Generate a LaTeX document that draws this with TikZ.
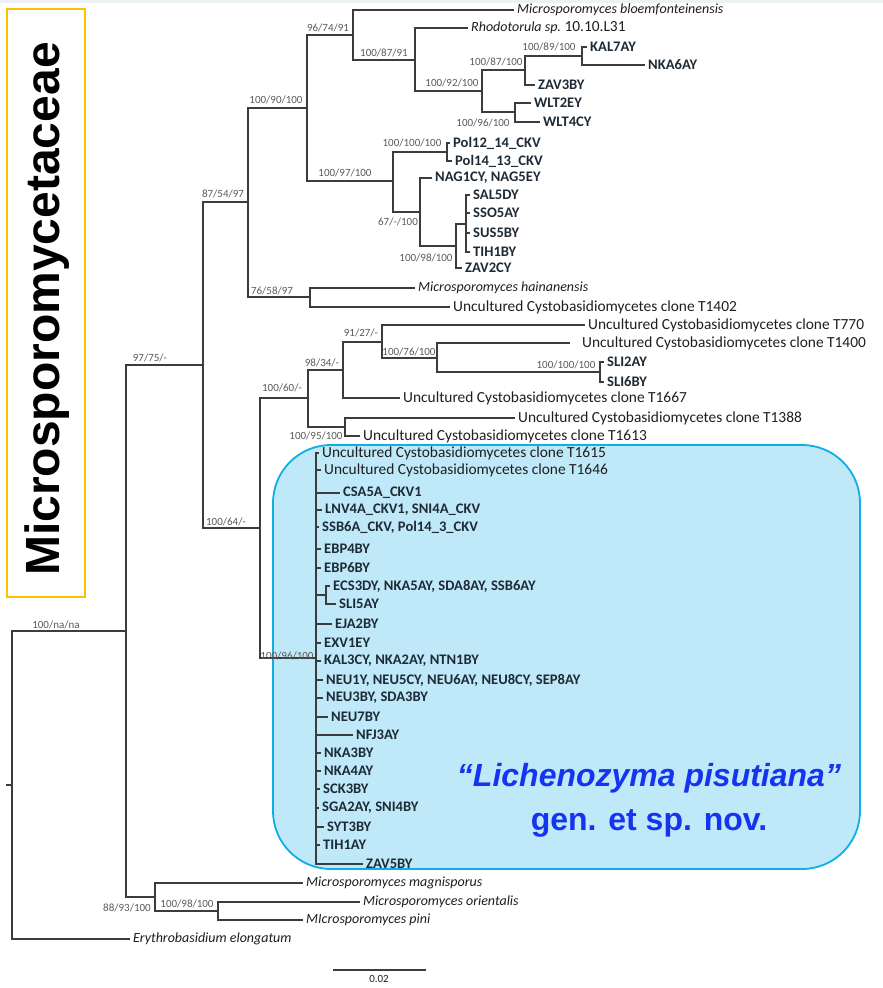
\documentclass[tikz,border=0pt]{standalone}
\usepackage{fontspec}
\setmainfont{Carlito}
\newfontfamily\arialf{Liberation Sans}
\definecolor{linec}{HTML}{3C3C3C}
\definecolor{leafc}{HTML}{1E1E1E}
\definecolor{boldc}{HTML}{1E2A36}
\definecolor{bootc}{HTML}{5C5A58}
\definecolor{boxfill}{HTML}{BFE9F8}
\definecolor{boxline}{HTML}{10AEE8}
\definecolor{lichc}{HTML}{1434EF}
\definecolor{orangec}{HTML}{FFC000}
\definecolor{topc}{HTML}{EDF2F5}
\begin{document}
\begin{tikzpicture}[x=1pt,y=-1pt,
  br/.style={draw=linec, line width=1.2pt},
  leaf/.style={anchor=west, inner xsep=3pt, inner ysep=0pt, text=leafc, font=\fontsize{15.4}{17}\selectfont},
  leafi/.style={leaf, font=\fontsize{14}{16}\selectfont\itshape},
  leafb/.style={leaf, text=boldc, font=\fontsize{14.6}{17}\selectfont\bfseries},
  boot/.style={text=bootc, font=\fontsize{11}{12}\selectfont, inner sep=0pt}]
\useasboundingbox (0,0) rectangle (883,988);
\fill[topc] (0,0) rectangle (883,3);
% family box
\draw[draw=orangec, line width=1.5pt] (7,9) rectangle (85,597);
\node[rotate=90, font=\arialf\bfseries\fontsize{48}{50}\selectfont] (fam) at (47,309) {Microsporomycetaceae};
% highlight box
\draw[fill=boxfill, draw=boxline, line width=1.8pt, rounded corners=58pt] (273,445) rectangle (860,869);
\node[font=\arialf\bfseries\fontsize{32}{44}\selectfont, text=lichc, align=center] (lich) at (649,800) {{\itshape “Lichenozyma pisutiana”}\\gen. et sp. nov.};

% internal nodes
\coordinate (rs) at (6,785);
\coordinate (root) at (12,785);
\coordinate (n1) at (126,631);
\coordinate (n2) at (203,365);
\coordinate (n3) at (248,202);
\coordinate (nA) at (307,108);
\coordinate (nB) at (353,35);
\coordinate (nC) at (415,60);
\coordinate (nD) at (482,91);
\coordinate (nE) at (525,70);
\coordinate (nF) at (582,56);
\coordinate (nG) at (515,112);
\coordinate (nH) at (393,181);
\coordinate (nI) at (447,152);
\coordinate (nJ) at (420,212);
\coordinate (nK) at (456,246);
\coordinate (nL) at (466,224);
\coordinate (nM) at (310,297);
\coordinate (nN) at (260,528);
\coordinate (nR) at (308,398);
\coordinate (nS) at (343,370);
\coordinate (nU) at (382,342);
\coordinate (nV) at (437,358);
\coordinate (nW) at (600,372);
\coordinate (nT) at (345,427);
\coordinate (nO) at (316,658);
\coordinate (nP) at (326,595);
\coordinate (nQ) at (155,897);
\coordinate (nX) at (218,911);

% leaves
\node[leafi] (bloem) at (514,10) {Microsporomyces bloemfonteinensis};
\node[leaf] (rhodo) at (468,28) {{\fontsize{14}{16}\selectfont\itshape Rhodotorula sp.}\ 10.10.L31};
\node[leafb] (kal7) at (587,47) {KAL7AY};
\node[leafb] (nka6) at (645,65) {NKA6AY};
\node[leafb] (zav3) at (535,85) {ZAV3BY};
\node[leafb] (wlt2) at (531,103) {WLT2EY};
\node[leafb] (wlt4) at (540,122) {WLT4CY};
\node[leafb] (pol12) at (450,143) {Pol12\_14\_CKV};
\node[leafb] (pol14) at (452,161) {Pol14\_13\_CKV};
\node[leafb] (nag) at (432,178) {NAG1CY, NAG5EY};
\node[leafb] (sal5) at (470,195) {SAL5DY};
\node[leafb] (sso5) at (470,213) {SSO5AY};
\node[leafb] (sus5) at (470,233) {SUS5BY};
\node[leafb] (tih1b) at (470,252) {TIH1BY};
\node[leafb] (zav2) at (462,268) {ZAV2CY};
\node[leafi] (hain) at (415,288) {Microsporomyces hainanensis};
\node[leaf] (t1402) at (450,307) {Uncultured Cystobasidiomycetes clone T1402};
\node[leaf] (t770) at (585,325) {Uncultured Cystobasidiomycetes clone T770};
\node[leaf] (t1400) at (570,343) {\hspace{9pt}Uncultured Cystobasidiomycetes clone T1400};
\node[leafb] (sli2) at (604,362) {SLI2AY};
\node[leafb] (sli6) at (604,382) {SLI6BY};
\node[leaf] (t1667) at (400,398) {Uncultured Cystobasidiomycetes clone T1667};
\node[leaf] (t1388) at (515,418) {Uncultured Cystobasidiomycetes clone T1388};
\node[leaf] (t1613) at (360,436) {Uncultured Cystobasidiomycetes clone T1613};
\node[leaf] (t1615) at (319,453) {Uncultured Cystobasidiomycetes clone T1615};
\node[leaf] (t1646) at (321,470) {Uncultured Cystobasidiomycetes clone T1646};
\node[leafb] (csa5) at (340,493) {CSA5A\_CKV1};
\node[leafb] (lnv4) at (322,510) {LNV4A\_CKV1, SNI4A\_CKV};
\node[leafb] (ssb6a) at (319,527) {SSB6A\_CKV, Pol14\_3\_CKV};
\node[leafb] (ebp4) at (321,549) {EBP4BY};
\node[leafb] (ebp6) at (321,568) {EBP6BY};
\node[leafb] (ecs3) at (330,586) {ECS3DY, NKA5AY, SDA8AY, SSB6AY};
\node[leafb] (sli5) at (336,604) {SLI5AY};
\node[leafb] (eja2) at (332,624) {EJA2BY};
\node[leafb] (exv1) at (321,643) {EXV1EY};
\node[leafb] (kal3) at (321,661) {KAL3CY, NKA2AY, NTN1BY};
\node[leafb] (neu1) at (323,680) {NEU1Y, NEU5CY, NEU6AY, NEU8CY, SEP8AY};
\node[leafb] (neu3) at (323,698) {NEU3BY, SDA3BY};
\node[leafb] (neu7) at (328,717) {NEU7BY};
\node[leafb] (nfj3) at (353,735) {NFJ3AY};
\node[leafb] (nka3) at (321,753) {NKA3BY};
\node[leafb] (nka4) at (321,771) {NKA4AY};
\node[leafb] (sck3) at (320,789) {SCK3BY};
\node[leafb] (sga2) at (319,808) {SGA2AY, SNI4BY};
\node[leafb] (syt3) at (324,827) {SYT3BY};
\node[leafb] (tih1a) at (320,845) {TIH1AY};
\node[leafb] (zav5) at (363,864) {ZAV5BY};
\node[leafi] (magn) at (303,883) {Microsporomyces magnisporus};
\node[leafi] (orie) at (360,902) {Microsporomyces orientalis};
\node[leafi] (pini) at (303,920) {MIcrosporomyces pini};
\node[leafi] (eryth) at (130,939) {Erythrobasidium elongatum};

% branches
\draw[br] (rs) -- (root);
\draw[br] (root) |- (n1);
\draw[br] (root) |- (eryth.west);
\draw[br] (n1) |- (n2);
\draw[br] (n1) |- (nQ);
\draw[br] (n2) |- (n3);
\draw[br] (n2) |- (nN);
\draw[br] (n3) |- (nA);
\draw[br] (n3) |- (nM);
\draw[br] (nA) |- (nB);
\draw[br] (nA) |- (nH);
\draw[br] (nB) |- (bloem.west);
\draw[br] (nB) |- (nC);
\draw[br] (nC) |- (rhodo.west);
\draw[br] (nC) |- (nD);
\draw[br] (nD) |- (nE);
\draw[br] (nD) |- (nG);
\draw[br] (nE) |- (nF);
\draw[br] (nE) |- (zav3.west);
\draw[br] (nF) |- (kal7.west);
\draw[br] (nF) |- (nka6.west);
\draw[br] (nG) |- (wlt2.west);
\draw[br] (nG) |- (wlt4.west);
\draw[br] (nH) |- (nI);
\draw[br] (nH) |- (nJ);
\draw[br] (nI) |- (pol12.west);
\draw[br] (nI) |- (pol14.west);
\draw[br] (nJ) |- (nag.west);
\draw[br] (nJ) |- (nK);
\draw[br] (nK) |- (nL);
\draw[br] (nK) |- (zav2.west);
\draw[br] (nL) |- (sal5.west);
\draw[br] (nL) |- (sso5.west);
\draw[br] (nL) |- (sus5.west);
\draw[br] (nL) |- (tih1b.west);
\draw[br] (nM) |- (hain.west);
\draw[br] (nM) |- (t1402.west);
\draw[br] (nN) |- (nR);
\draw[br] (nN) |- (nO);
\draw[br] (nR) |- (nS);
\draw[br] (nR) |- (nT);
\draw[br] (nS) |- (nU);
\draw[br] (nS) |- (t1667.west);
\draw[br] (nU) |- (t770.west);
\draw[br] (nU) |- (nV);
\draw[br] (nV) |- (t1400.west);
\draw[br] (nV) |- (nW);
\draw[br] (nW) |- (sli2.west);
\draw[br] (nW) |- (sli6.west);
\draw[br] (nT) |- (t1388.west);
\draw[br] (nT) |- (t1613.west);
\foreach \lf in {t1615,t1646,csa5,lnv4,ssb6a,ebp4,ebp6,eja2,exv1,kal3,neu1,neu3,neu7,nfj3,nka3,nka4,sck3,sga2,syt3,tih1a,zav5}
  {\draw[br] (nO) |- (\lf.west);}
\draw[br] (nO) |- (nP);
\draw[br] (nP) |- (ecs3.west);
\draw[br] (nP) |- (sli5.west);
\draw[br] (nQ) |- (magn.west);
\draw[br] (nQ) |- (nX);
\draw[br] (nX) |- (orie.west);
\draw[br] (nX) |- (pini.west);

% support values
\node[boot] (b1) at (56,625) {100/na/na};
\node[boot] (b2) at (150,358) {97/75/-};
\node[boot] (b3) at (223,194) {87/54/97};
\node[boot] (b4) at (276,100) {100/90/100};
\node[boot] (b5) at (328,28) {96/74/91};
\node[boot] (b6) at (384,53) {100/87/91};
\node[boot] (b7) at (452,83) {100/92/100};
\node[boot] (b8) at (496,62) {100/87/100};
\node[boot] (b9) at (549,47) {100/89/100};
\node[boot] (b10) at (483,123) {100/96/100};
\node[boot] (b11) at (345,173) {100/97/100};
\node[boot] (b12) at (412,143) {100/100/100};
\node[boot] (b13) at (398,222) {67/-/100};
\node[boot] (b14) at (426,258) {100/98/100};
\node[boot] (b15) at (272,291) {76/58/97};
\node[boot] (b16) at (226,522) {100/64/-};
\node[boot] (b17) at (282,388) {100/60/-};
\node[boot] (b18) at (322,363) {98/34/-};
\node[boot] (b19) at (361,333) {91/27/-};
\node[boot] (b20) at (409,352) {100/76/100};
\node[boot] (b21) at (566,365) {100/100/100};
\node[boot] (b22) at (316,436) {100/95/100};
\node[boot] (b23) at (287,656) {100/96/100};
\node[boot] (b24) at (127,908) {88/93/100};
\node[boot] (b25) at (187,904) {100/98/100};

% scale bar
\coordinate (sb1) at (333,970);
\coordinate (sb2) at (426,970);
\draw[br] (sb1) -- (sb2);
\node[text=leafc, font=\fontsize{11}{12}\selectfont, anchor=north, inner sep=0pt] (sbl) at (379,975) {0.02};
\end{tikzpicture}
\end{document}
